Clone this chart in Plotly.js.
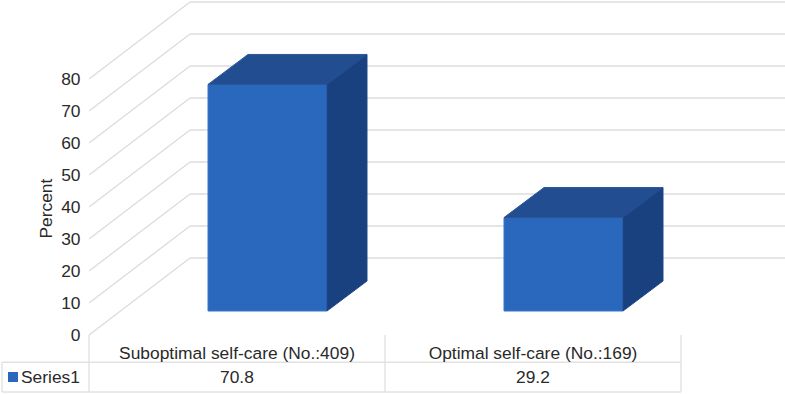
<!DOCTYPE html>
<html>
<head>
<meta charset="utf-8">
<script src="https://cdn.plot.ly/plotly-3.0.1.min.js"></script>
<style>html,body{margin:0;padding:0;background:#fff}#chart{width:785px;height:394px}</style>
</head>
<body>
<div id="chart"></div>
<script>
const categories = ["Suboptimal self-care (No.:409)", "Optimal self-care (No.:169)"];
const values = [70.8, 29.2];
const seriesName = "Series1";
const yTicks = [0, 10, 20, 30, 40, 50, 60, 70, 80];
const axisTitle = "Percent";

const W = 785, H = 394;
const pxX = 296, pxY = 3.2, originX = 237, originY = 335;
const xRange = [(0 - originX) / pxX, (W - originX) / pxX];
const yRange = [(originY - H) / pxY, originY / pxY];

// 3D projection, in axis units
const xLeft = -0.5, xEnd = 1.5;
const wallDx = 101 / pxX, wallDy = 77 / pxY;
const barShiftX = 30.5 / pxX, barLift = 24 / pxY;
const barDx = 40 / pxX, barDy = 30 / pxY;
const barWidth = 119 / pxX;
const xTableLeft = xLeft - 87 / pxX;
const yTableMid = -27.3 / pxY, yTableBottom = -57 / pxY;
const rowY = -42 / pxY;

const gridCol = "#dcdcdc", tableCol = "#e2e2e2";
const seg = (x0, y0, x1, y1, color, w) => ({
  type: "line", xref: "x", yref: "y", layer: "below",
  x0: x0, y0: y0, x1: x1, y1: y1, line: {color: color, width: w}
});

const shapes = [];
yTicks.forEach(v => {
  shapes.push(seg(xLeft, v, xLeft + wallDx, v + wallDy, gridCol, 1.3));
  shapes.push(seg(xLeft + wallDx, v + wallDy, xRange[1], v + wallDy, gridCol, 1.3));
});
[xLeft, 0.5, xEnd].forEach(x => shapes.push(seg(x, 0, x, yTableBottom, tableCol, 1.4)));
shapes.push(seg(xTableLeft, yTableMid, xEnd, yTableMid, tableCol, 1.4));
shapes.push(seg(xTableLeft, yTableBottom, xEnd, yTableBottom, tableCol, 1.4));
shapes.push(seg(xTableLeft, yTableMid, xTableLeft, yTableBottom, tableCol, 1.4));

const front = "#2a68be", topCol = "#224e91", sideCol = "#19417f";
const barX = categories.map((c, i) => i + barShiftX);

const traces = [{
  type: "bar", name: seriesName, x: barX, y: values, base: values.map(() => barLift),
  width: barWidth, marker: {color: front, line: {color: "#3a74c4", width: 1}},
  showlegend: false, hoverinfo: "y"
}];
values.forEach((v, i) => {
  const x0 = barX[i] - barWidth / 2, x1 = barX[i] + barWidth / 2;
  const yb = barLift, yt = barLift + v;
  traces.push({
    type: "scatter", mode: "lines", fill: "toself", fillcolor: topCol,
    x: [x0, x1, x1 + barDx, x0 + barDx, x0], y: [yt, yt, yt + barDy, yt + barDy, yt],
    line: {color: "#2a5699", width: 1}, showlegend: false, hoverinfo: "skip"
  });
  traces.push({
    type: "scatter", mode: "lines", fill: "toself", fillcolor: sideCol,
    x: [x1, x1 + barDx, x1 + barDx, x1, x1], y: [yb, yb + barDy, yt + barDy, yt, yb],
    line: {color: "#20498a", width: 1}, showlegend: false, hoverinfo: "skip"
  });
});
traces.push({
  type: "scatter", mode: "markers", x: [xLeft - 76 / pxX], y: [rowY],
  marker: {symbol: "square", size: 10, color: front}, showlegend: false, hoverinfo: "skip"
});

const font = {family: '"Liberation Sans", Arial, sans-serif', size: 17.4, color: "#2a2a2a"};
const annotations = values.map((v, i) => ({
  xref: "x", yref: "y", x: i, y: rowY, text: v.toFixed(1), showarrow: false, font: font
}));
annotations.push({
  xref: "x", yref: "y", x: xLeft - 70 / pxX, y: rowY, xanchor: "left",
  text: seriesName, showarrow: false, font: font
});
annotations.push({
  xref: "x", yref: "y", x: xLeft - 43 / pxX, y: 39.5, textangle: -90,
  text: axisTitle, showarrow: false, font: font
});

Plotly.newPlot("chart", traces, {
  width: W, height: H, margin: {l: 0, r: 0, t: 0, b: 0}, paper_bgcolor: "#fff", plot_bgcolor: "rgba(0,0,0,0)",
  showlegend: false, font: font, shapes: shapes, annotations: annotations,
  xaxis: {
    range: xRange, tickmode: "array", tickvals: categories.map((c, i) => i), ticktext: categories,
    showgrid: false, zeroline: false, showline: false, ticks: "outside", ticklen: 2,
    tickcolor: "rgba(0,0,0,0)", tickfont: font, fixedrange: true,
    anchor: "free", position: (H - originY) / H
  },
  yaxis: {
    range: yRange, tickmode: "array", tickvals: yTicks, showgrid: false, zeroline: false, showline: false,
    ticks: "outside", ticklen: 5, tickcolor: "rgba(0,0,0,0)", tickfont: font, fixedrange: true,
    anchor: "free", position: (originX + xLeft * pxX) / W
  }
}, {displayModeBar: false, staticPlot: true});
</script>
</body>
</html>
